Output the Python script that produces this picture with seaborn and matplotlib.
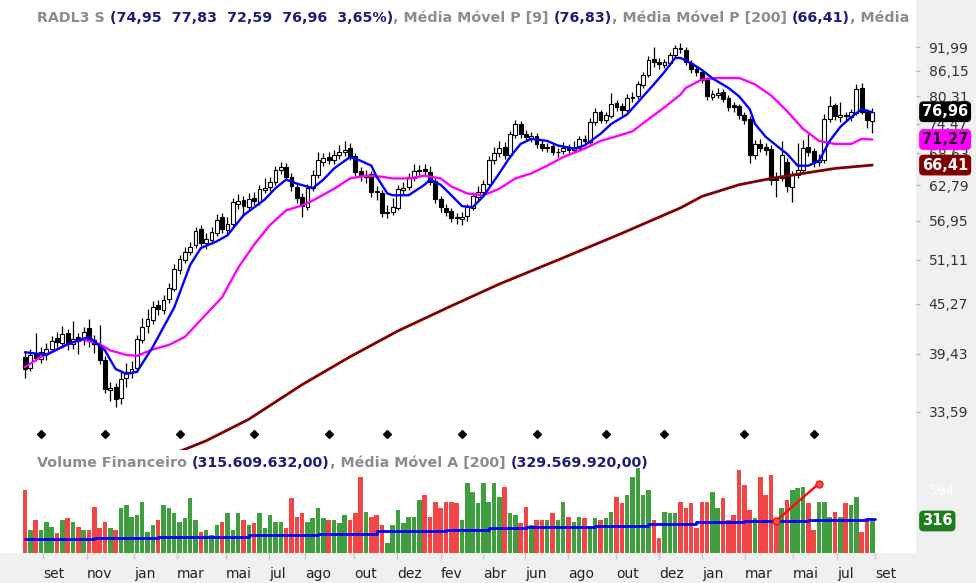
import matplotlib
matplotlib.use("Agg")
import matplotlib.pyplot as plt
import seaborn as sns
import numpy as np
from matplotlib.transforms import IdentityTransform
from matplotlib.ticker import FixedLocator, FixedFormatter, NullLocator

# ------------------------------
# Weekly candles RADL3
# ------------------------------
open_ = [39.1, 37.9, 39.4, 38.9, 39.5, 40.0, 41.2, 40.6, 41.7, 40.5,
         41.3, 40.9, 42.3, 40.9, 40.4, 38.8, 35.7, 36.0, 34.9, 36.9,
         37.4, 37.9, 41.0, 42.6, 43.3, 45.1, 44.5, 45.9, 47.2, 49.7,
         51.1, 52.3, 53.2, 55.6, 53.5, 54.0, 55.1, 57.5, 55.5, 56.5,
         59.6, 60.3, 59.2, 60.6, 60.0, 62.0, 62.5, 63.3, 65.5, 66.1,
         64.3, 62.5, 60.8, 59.2, 62.3, 64.6, 66.9, 67.9, 67.3, 68.2,
         68.8, 69.6, 68.1, 65.3, 64.3, 64.8, 61.9, 61.5, 58.1, 58.3,
         59.0, 62.0, 62.5, 64.1, 65.4, 65.7, 65.2, 63.5, 60.5, 59.0,
         58.5, 57.5, 57.2, 57.7, 59.0, 60.8, 61.7, 63.1, 67.3, 68.6,
         69.8, 68.2, 72.2, 74.4, 72.4, 71.6, 72.0, 70.4, 69.6, 70.0,
         68.8, 69.0, 69.8, 69.2, 69.6, 71.4, 70.8, 74.8, 76.9, 75.2,
         76.1, 78.8, 78.1, 77.3, 79.9, 80.3, 82.9, 85.1, 89.0, 88.3,
         87.6, 88.1, 89.9, 91.9, 91.4, 88.1, 86.6, 85.9, 84.0, 80.2,
         80.7, 81.2, 79.9, 78.4, 78.1, 76.3, 75.4, 68.2, 70.4, 69.8,
         69.4, 64.2, 64.0, 67.0, 62.5, 64.6, 65.5, 69.8, 69.0, 66.9,
         67.3, 75.4, 78.3, 75.9, 76.3, 75.9, 76.7, 82.1, 77.1, 74.95]
close = [37.8, 39.3, 39.0, 39.6, 40.0, 40.8, 40.7, 41.6, 40.5, 41.1,
         40.8, 41.9, 40.8, 40.5, 38.7, 35.8, 35.9, 34.8, 36.8, 37.5,
         37.8, 41.1, 42.4, 43.4, 44.9, 44.6, 45.8, 47.3, 49.8, 51.2,
         52.2, 53.0, 55.3, 53.6, 54.1, 55.2, 57.1, 55.6, 56.4, 59.9,
         60.1, 59.3, 60.4, 60.1, 62.1, 62.4, 63.4, 65.6, 66.0, 64.2,
         62.6, 60.7, 59.3, 62.4, 64.7, 67.4, 67.8, 67.4, 68.3, 68.9,
         69.3, 68.0, 65.1, 64.4, 64.7, 61.6, 61.6, 58.2, 58.4, 59.1,
         62.1, 62.4, 64.2, 65.3, 65.6, 65.3, 63.4, 60.4, 59.1, 58.4,
         57.4, 57.3, 57.6, 59.1, 60.9, 61.6, 63.0, 67.4, 68.7, 69.7,
         68.3, 72.3, 74.3, 72.3, 71.7, 71.9, 70.3, 69.7, 69.9, 68.9,
         68.9, 69.7, 69.3, 69.7, 71.3, 70.9, 74.9, 76.8, 75.3, 76.2,
         78.7, 78.0, 77.4, 80.0, 80.2, 83.0, 85.2, 88.9, 88.2, 87.7,
         88.2, 90.0, 91.8, 91.5, 88.2, 86.5, 86.0, 84.1, 80.3, 80.8,
         81.1, 79.8, 78.0, 78.0, 76.2, 75.3, 68.3, 70.3, 69.7, 69.3,
         63.8, 63.8, 68.3, 62.6, 64.7, 65.6, 69.7, 68.9, 67.0, 67.4,
         75.5, 78.2, 76.0, 76.2, 76.0, 76.8, 82.0, 77.0, 75.3, 76.96]
high = [39.6, 40.0, 41.8, 40.2, 40.6, 41.4, 41.9, 42.6, 42.2, 43.2,
        41.8, 42.5, 43.4, 41.5, 42.7, 39.2, 36.5, 36.4, 37.5, 38.4,
        38.6, 41.5, 43.5, 44.6, 45.6, 45.8, 46.4, 47.9, 50.5, 51.8,
        53.0, 53.7, 56.0, 56.2, 55.0, 56.0, 58.0, 58.2, 57.6, 60.6,
        61.3, 61.0, 61.4, 61.6, 62.8, 64.0, 64.2, 66.3, 67.0, 66.8,
        64.9, 63.2, 61.5, 63.0, 65.5, 68.8, 68.6, 68.9, 69.2, 70.2,
        71.0, 70.5, 68.6, 66.0, 65.6, 65.3, 62.6, 62.0, 59.5, 60.6,
        62.8, 63.3, 64.9, 66.6, 66.4, 66.6, 66.2, 64.0, 61.0, 59.7,
        59.0, 58.2, 58.4, 59.7, 61.6, 62.7, 63.8, 68.1, 69.8, 71.0,
        70.8, 73.0, 75.3, 75.0, 73.2, 72.7, 72.6, 71.1, 70.6, 70.5,
        69.6, 70.8, 70.4, 70.9, 72.0, 72.2, 75.6, 77.7, 77.4, 77.0,
        81.0, 79.5, 78.9, 80.8, 81.2, 83.8, 86.0, 89.7, 92.0, 89.2,
        89.0, 90.8, 92.6, 93.0, 92.0, 88.8, 87.4, 86.5, 84.6, 81.8,
        82.2, 81.9, 80.6, 79.0, 78.6, 77.0, 76.0, 71.2, 71.3, 70.5,
        70.2, 65.2, 71.0, 67.8, 65.4, 70.6, 71.2, 72.4, 69.6, 68.4,
        76.4, 80.4, 78.9, 79.0, 77.0, 77.6, 83.2, 83.4, 77.6, 77.83]
low = [36.9, 37.6, 38.6, 38.4, 38.8, 39.6, 40.2, 40.1, 39.8, 40.0,
       39.4, 40.4, 40.2, 39.5, 38.3, 35.4, 34.6, 34.0, 34.3, 36.0,
       36.9, 37.5, 40.6, 41.8, 42.8, 43.9, 44.0, 45.4, 46.9, 49.2,
       50.6, 51.8, 52.8, 53.1, 52.6, 53.4, 54.6, 55.0, 54.9, 56.0,
       58.9, 57.7, 58.6, 59.5, 59.5, 61.4, 61.9, 62.8, 64.8, 63.7,
       61.9, 59.8, 57.6, 58.7, 61.8, 64.1, 66.2, 66.6, 66.7, 67.6,
       68.1, 67.3, 64.5, 63.6, 63.2, 60.8, 60.3, 57.6, 57.4, 57.9,
       58.6, 61.2, 62.0, 63.5, 64.6, 64.5, 62.8, 59.8, 58.4, 57.7,
       56.7, 56.4, 56.3, 56.9, 58.6, 60.1, 61.1, 62.6, 66.6, 68.0,
       67.5, 67.7, 71.6, 71.6, 70.9, 70.8, 69.6, 69.0, 68.9, 68.2,
       67.9, 68.4, 68.6, 68.7, 69.1, 70.2, 70.3, 74.2, 74.6, 74.6,
       75.6, 77.2, 76.3, 76.8, 79.0, 79.8, 82.2, 84.6, 87.0, 86.7,
       86.8, 87.5, 89.2, 90.5, 87.6, 85.7, 85.0, 83.4, 79.5, 79.4,
       80.0, 79.0, 77.2, 76.8, 75.4, 74.4, 66.8, 67.5, 68.8, 68.2,
       62.9, 60.8, 63.5, 61.6, 59.9, 64.0, 65.0, 68.1, 66.1, 66.2,
       66.8, 74.8, 75.3, 74.8, 75.2, 75.1, 76.2, 76.4, 73.6, 72.59]

# financial volume, millions
volume = [594, 235, 325, 235, 310, 265, 205, 325, 340, 310,
          265, 235, 235, 444, 250, 310, 250, 235, 430, 460,
          355, 370, 490, 220, 280, 325, 460, 430, 385, 310,
          340, 520, 325, 220, 235, 190, 280, 310, 385, 235,
          385, 325, 280, 295, 385, 250, 370, 310, 310, 250,
          520, 355, 385, 310, 340, 430, 340, 325, 325, 295,
          370, 325, 385, 713, 400, 355, 370, 280, 115, 280,
          415, 295, 355, 355, 504, 550, 355, 490, 430, 490,
          490, 475, 325, 654, 580, 475, 654, 490, 654, 535,
          625, 385, 370, 295, 445, 280, 325, 325, 325, 385,
          325, 490, 355, 310, 355, 340, 265, 340, 325, 340,
          400, 535, 475, 550, 713, 788, 550, 594, 325, 160,
          400, 385, 385, 490, 430, 475, 250, 490, 490, 580,
          430, 520, 325, 370, 773, 640, 415, 340, 713, 550,
          728, 310, 430, 504, 594, 610, 625, 475, 235, 490,
          490, 355, 400, 355, 475, 460, 535, 220, 340, 316]

# moving averages (week index, value)
ma9_x = [0, 4, 8, 12, 15, 17, 19, 21, 24, 28, 31, 33, 36, 38, 41, 45, 47, 49, 51, 54,
         56, 58, 61, 63, 65, 66, 68, 69, 72, 75, 76, 78, 80, 82, 84, 86, 89, 91, 93, 95,
         98, 100, 103, 105, 108, 110, 113, 115, 118, 120, 122, 123, 125, 127, 129, 132,
         134, 136, 137, 139, 141, 143, 145, 147, 149, 151, 153, 155, 157, 159]
ma9_y = [39.6, 39.3, 40.5, 41.3, 39.8, 37.8, 37.3, 37.5, 40.2, 44.8, 50.4, 52.8, 53.8,
         54.7, 57.8, 60.4, 62.3, 63.8, 63.1, 62.3, 63.8, 65.8, 67.9, 67.2, 66.3, 64.3,
         61.4, 61.1, 61.1, 62.9, 63.8, 62.9, 61.1, 59.3, 59.1, 60.9, 64.9, 67.9, 70.4,
         71.4, 71.0, 70.1, 69.5, 70.1, 72.4, 74.4, 76.4, 79.0, 83.0, 85.9, 89.3, 89.3,
         88.0, 86.4, 84.4, 82.2, 80.3, 77.5, 74.4, 71.8, 70.1, 68.5, 66.3, 66.3, 67.2,
         71.0, 73.8, 75.8, 77.5, 76.83]
ma_mid_x = [0, 3, 6, 9, 11, 14, 16, 19, 21, 24, 27, 30, 33, 37, 40, 43, 46, 49, 52, 54,
            58, 61, 64, 67, 69, 72, 75, 78, 80, 83, 86, 89, 92, 95, 98, 101, 105, 108,
            111, 114, 117, 120, 123, 124, 127, 130, 134, 137, 140, 143, 146, 149, 152,
            155, 157, 159]
ma_mid_y = [38.0, 39.1, 39.9, 40.7, 41.0, 40.5, 39.8, 39.3, 39.2, 39.9, 40.4, 41.3, 43.3,
            46.1, 50.0, 53.3, 56.3, 58.6, 59.4, 60.2, 62.2, 64.0, 64.5, 64.3, 64.0, 64.0,
            64.5, 64.0, 62.6, 61.4, 61.1, 62.2, 64.0, 64.9, 66.3, 67.9, 69.5, 71.0, 71.9,
            72.9, 75.4, 77.9, 80.7, 82.2, 84.1, 84.5, 84.5, 83.0, 80.5, 77.1, 73.4, 71.0,
            70.4, 70.4, 71.4, 71.27]
ma200_x = [29, 34, 42, 52, 61, 70, 80, 89, 101, 112, 123, 127, 134, 140, 146, 152, 159]
ma200_y = [30.1, 31.0, 32.9, 36.2, 39.1, 42.0, 45.0, 47.8, 51.4, 55.0, 59.0, 60.9, 62.9,
           64.0, 64.9, 65.8, 66.41]

vol_ma_x = [0, 13, 25, 42, 55, 66, 79, 87, 94, 107, 117, 126, 135, 147, 158, 159.5]
vol_ma_y = [151, 166, 175, 190, 202, 223, 235, 250, 259, 274, 289, 304, 315, 322, 330, 330]

trend_x = [141, 149]
trend_y = [320, 652]

event_weeks = [3, 15, 29, 43, 57, 68, 82, 96, 109, 120, 135, 148]

price_ticks = [33.59, 39.43, 45.27, 51.11, 56.95, 62.79, 68.63, 74.47, 80.31, 86.15, 91.99]
month_ticks = [3.4, 11.6, 20.5, 28.5, 37.7, 45.8, 52.5, 61.7, 69.8, 78.0,
               85.9, 93.8, 101.9, 110.9, 119.0, 127.0, 135.1, 144.1, 152.4, 159.5]
month_labels = ['set', 'nov', 'jan', 'mar', 'mai', 'jul', 'ago', 'out', 'dez', 'fev',
                'abr', 'jun', 'ago', 'out', 'dez', 'jan', 'mar', 'mai', 'jul', 'set']

GRAY = '#8c8c8c'
NAVY = '#1e1e78'
price_title = [("RADL3 S", GRAY, True), ("(74,95  77,83  72,59  76,96  3,65%)", NAVY, False),
               (", Média Móvel P [9]", GRAY, True), ("(76,83)", NAVY, False),
               (", Média Móvel P [200]", GRAY, True), ("(66,41)", NAVY, False),
               (", Média", GRAY, False)]
vol_title = [("Volume Financeiro", GRAY, True), ("(315.609.632,00)", NAVY, False),
             (", Média Móvel A [200]", GRAY, True), ("(329.569.920,00)", NAVY, False)]

# ------------------------------
# Figure
# ------------------------------
sns.set_theme(style="white")
plt.rcParams['font.family'] = ['DejaVu Sans']

W, H = 976, 583
fig = plt.figure(figsize=(W / 100, H / 100), dpi=100, facecolor='#f0f0f0')
ax = fig.add_axes([0, 1 - 450 / H, 916 / W, 450 / H])
axv = fig.add_axes([0, 30 / H, 916 / W, 103 / H], sharex=ax)
for a in (ax, axv):
    a.set_facecolor('white')
    for s in a.spines.values():
        s.set_visible(False)

o, c, h, l = (np.array(v) for v in (open_, close, high, low))
idx = np.arange(len(c))
up = c >= o

# candles
ax.vlines(idx, l, h, color='black', linewidth=0.9, zorder=2)
ax.bar(idx, np.abs(c - o), bottom=np.minimum(o, c), width=0.72,
       color=np.where(up, 'white', 'black'), edgecolor='black', linewidth=0.8, zorder=3)

# moving averages
sns.lineplot(x=ma200_x, y=ma200_y, ax=ax, color='#800000', linewidth=2.0, zorder=4)
sns.lineplot(x=ma_mid_x, y=ma_mid_y, ax=ax, color='#ff00ff', linewidth=1.7, zorder=4)
sns.lineplot(x=ma9_x, y=ma9_y, ax=ax, color='#0000ff', linewidth=1.7, zorder=5)

# event markers
ax.scatter(event_weeks, [0.036] * len(event_weeks), transform=ax.get_xaxis_transform(),
           marker='D', s=16, color='black', zorder=5)

ax.set_yscale('log')
ax.set_ylim(30.22, 104.8)
ax.set_xlim(-4.69, 167.2)
ax.yaxis.set_major_locator(FixedLocator(price_ticks))
ax.yaxis.set_major_formatter(FixedFormatter([f"{v:.2f}".replace('.', ',') for v in price_ticks]))
ax.yaxis.set_minor_locator(NullLocator())
ax.yaxis.tick_right()
ax.tick_params(axis='y', right=True, length=3, width=1, color='#b8b8b8', pad=6,
               labelsize=10, labelcolor='#333333')
ax.tick_params(axis='x', bottom=False, labelbottom=False)
ax.set_xlabel('')
ax.set_ylabel('')

# volume
axv.bar(idx, volume, width=0.85, color=np.where(up, '#3f9f3f', '#f24646'), linewidth=0)
sns.lineplot(x=vol_ma_x, y=vol_ma_y, ax=axv, color='#0000ff', linewidth=2.0,
             drawstyle='steps-post', zorder=4)
axv.plot(trend_x, trend_y, color='#ff1010', linewidth=1.8, marker='o', markersize=5,
         markerfacecolor='#ff5050', markeredgecolor='#ff1010', zorder=5)
axv.set_ylim(28.7, 952.6)
axv.set_yticks([594])
axv.set_yticklabels(['594'])
axv.yaxis.tick_right()
axv.tick_params(axis='y', right=False, length=0, pad=9, labelsize=10, labelcolor='white')
axv.set_xticks(month_ticks)
axv.set_xticklabels(month_labels)
axv.tick_params(axis='x', bottom=True, length=4, width=1, color='#c8c8c8', pad=6,
                labelsize=10, labelcolor='#222222')
for lab in axv.get_xticklabels():
    lab.set_horizontalalignment('left')
axv.set_xlabel('')
axv.set_ylabel('')


def badge(a, yval, txt, fc, tc):
    a.text(1.0066, yval, txt, transform=a.get_yaxis_transform(), ha='left', va='center',
           fontsize=10.5, fontweight='bold', color=tc, clip_on=False, zorder=10,
           bbox=dict(boxstyle='round,pad=0.15,rounding_size=0.25', fc=fc, ec=fc))


badge(ax, close[-1], "76,96", 'black', 'white')
badge(ax, ma_mid_y[-1], "71,27", '#ff00ff', '#200020')
badge(ax, ma200_y[-1], "66,41", '#800000', 'white')
badge(axv, volume[-1], "316", '#1e7d1e', 'white')

# headers drawn as coloured runs
rend = fig.canvas.get_renderer()


def text_w(s, size):
    t = fig.text(0, 0, s, fontsize=size, fontweight='bold', transform=IdentityTransform())
    w = t.get_window_extent(rend).width
    t.remove()
    return w


def runs_width(runs, size):
    sp = text_w("a a", size) - text_w("aa", size)
    return sum(text_w(s, size) + (sp if gap else 0) for s, _, gap in runs)


def draw_runs(runs, x0, y0, size):
    sp = text_w("a a", size) - text_w("aa", size)
    x = x0
    for s, col, gap in runs:
        t = fig.text(x, y0, s, fontsize=size, fontweight='bold', color=col,
                     ha='left', va='center', transform=IdentityTransform())
        x += t.get_window_extent(rend).width + (sp if gap else 0)


size = 10 * 875 / runs_width(price_title, 10)
draw_runs(price_title, 37, H - 18, size)
draw_runs(vol_title, 37, H - 463, size)

fig.savefig('out.png', dpi=100, facecolor=fig.get_facecolor())
